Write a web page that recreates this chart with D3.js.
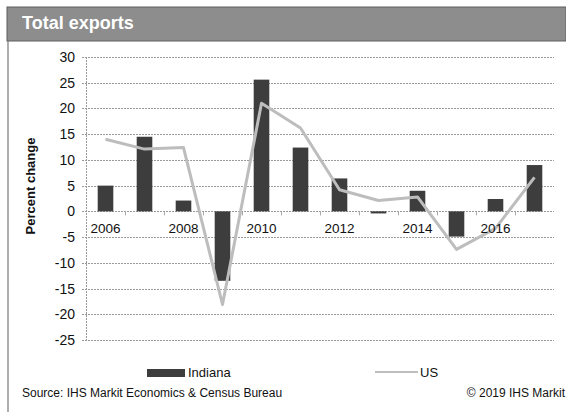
<!DOCTYPE html>
<html>
<head>
<meta charset="utf-8">
<script src="https://cdn.jsdelivr.net/npm/d3@7"></script>
<style>
  html, body { margin: 0; padding: 0; background: #fff; }
  svg { display: block; font-family: "Liberation Sans", Arial, sans-serif; }
</style>
</head>
<body>
<svg id="chart" width="566" height="412"></svg>
<script>
// Annual percent change in total exports
const years = [2006, 2007, 2008, 2009, 2010, 2011, 2012, 2013, 2014, 2015, 2016, 2017];
const indiana = [5.0, 14.5, 2.1, -13.5, 25.6, 12.4, 6.4, -0.4, 4.0, -4.9, 2.4, 9.0];
const us = [14.0, 12.1, 12.4, -18.1, 21.0, 16.2, 4.2, 2.1, 2.8, -7.4, -3.3, 6.6];
const yTicks = [30, 25, 20, 15, 10, 5, 0, -5, -10, -15, -20, -25];
const xLabelYears = [2006, 2008, 2010, 2012, 2014, 2016];

const svg = d3.select("#chart");
const W = 566, H = 412;
const plot = { left: 86, right: 554, top: 57, bottom: 340 };

const x = d3.scaleBand().domain(years).range([plot.left, plot.right]).paddingInner(0.6).paddingOuter(0.3);
const y = d3.scaleLinear().domain([-25, 30]).range([plot.bottom, plot.top]);

// Header band
svg.append("rect")
  .attr("x", 7).attr("y", 7).attr("width", W - 7).attr("height", 34)
  .attr("fill", "#8d8d8d").attr("stroke", "#5e5e5e").attr("stroke-width", 1);
svg.append("text")
  .attr("x", 22).attr("y", 29)
  .attr("fill", "#fff").attr("font-weight", "bold").attr("font-size", 18)
  .text("Total exports");

// Left frame line
svg.append("line")
  .attr("x1", 8).attr("x2", 8).attr("y1", 41).attr("y2", H)
  .attr("stroke", "#777").attr("stroke-width", 1.2);

// Horizontal gridlines
svg.append("g")
  .selectAll("line")
  .data(yTicks)
  .join("line")
  .attr("x1", plot.left - 4).attr("x2", plot.right)
  .attr("y1", d => Math.round(y(d)) + 0.5).attr("y2", d => Math.round(y(d)) + 0.5)
  .attr("stroke", "#9a9a9a").attr("stroke-width", 1).attr("stroke-dasharray", "2,1");

// Vertical axis line
svg.append("line")
  .attr("x1", plot.left + 0.5).attr("x2", plot.left + 0.5)
  .attr("y1", y(30)).attr("y2", y(-25))
  .attr("stroke", "#9a9a9a").attr("stroke-dasharray", "2,1");

// Y tick labels
svg.append("g")
  .selectAll("text")
  .data(yTicks)
  .join("text")
  .attr("x", 75).attr("y", d => y(d) + 5)
  .attr("text-anchor", "end").attr("font-size", 14).attr("fill", "#111")
  .text(d => d);

// Y axis title
svg.append("text")
  .attr("transform", "translate(35,186) rotate(-90)")
  .attr("text-anchor", "middle").attr("font-size", 13).attr("font-weight", "bold").attr("fill", "#111")
  .text("Percent change");

// Category tick marks on the zero line
const step = x.step();
svg.append("g")
  .selectAll("line")
  .data(years.slice(1))
  .join("line")
  .attr("x1", d => Math.round(x(d) + x.bandwidth() / 2 - step / 2) + 0.5)
  .attr("x2", d => Math.round(x(d) + x.bandwidth() / 2 - step / 2) + 0.5)
  .attr("y1", y(0)).attr("y2", y(0) + 4)
  .attr("stroke", "#aaa");

// Indiana bars
svg.append("g")
  .selectAll("rect")
  .data(years.map((yr, i) => ({ yr, v: indiana[i] })))
  .join("rect")
  .attr("x", d => x(d.yr))
  .attr("width", x.bandwidth())
  .attr("y", d => y(Math.max(0, d.v)))
  .attr("height", d => Math.max(1.5, Math.abs(y(d.v) - y(0))))
  .attr("fill", "#3d3d3d");

// US line
const line = d3.line()
  .x((d, i) => x(years[i]) + x.bandwidth() / 2)
  .y(d => y(d));
svg.append("path")
  .datum(us)
  .attr("d", line)
  .attr("fill", "none").attr("stroke", "#bdbdbd").attr("stroke-width", 3)
  .attr("stroke-linejoin", "round");

// X labels for even years
svg.append("g")
  .selectAll("text")
  .data(xLabelYears)
  .join("text")
  .attr("x", d => x(d) + x.bandwidth() / 2)
  .attr("y", y(0) + 22)
  .attr("text-anchor", "middle").attr("font-size", 13.5).attr("fill", "#111")
  .text(d => d);

// Legend
const legend = svg.append("g");
legend.append("rect")
  .attr("x", 147).attr("y", 369).attr("width", 38).attr("height", 8)
  .attr("fill", "#3d3d3d");
legend.append("text")
  .attr("x", 188).attr("y", 377).attr("font-size", 13).attr("fill", "#111")
  .text("Indiana");
legend.append("line")
  .attr("x1", 375).attr("x2", 418).attr("y1", 372).attr("y2", 372)
  .attr("stroke", "#bdbdbd").attr("stroke-width", 2);
legend.append("text")
  .attr("x", 420).attr("y", 377).attr("font-size", 13).attr("fill", "#111")
  .text("US");

// Footer
svg.append("text")
  .attr("x", 22).attr("y", 397).attr("font-size", 12).attr("fill", "#111")
  .text("Source: IHS Markit Economics & Census Bureau");
svg.append("text")
  .attr("x", 565).attr("y", 397).attr("text-anchor", "end").attr("font-size", 12).attr("fill", "#111")
  .text("© 2019 IHS Markit");
</script>
</body>
</html>
